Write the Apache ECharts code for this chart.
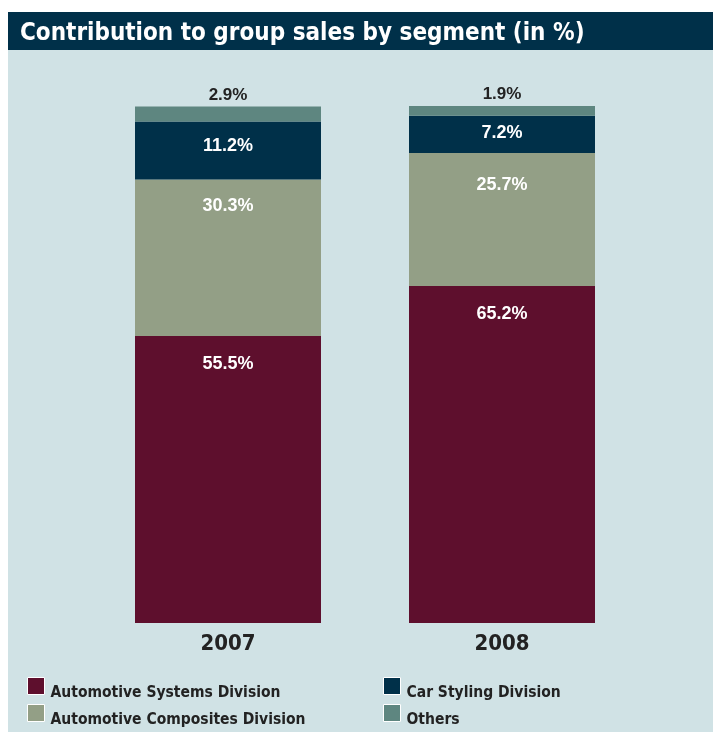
<!DOCTYPE html>
<html><head><meta charset="utf-8">
<script src="https://cdn.jsdelivr.net/npm/echarts@6/dist/echarts.min.js"></script>
<style>html,body{margin:0;padding:0;background:#fff}#c{width:713px;height:732px}</style>
</head><body><div id="c"></div>
<script>
const categories = ['2007', '2008'];
const systems = [55.5, 65.2];
const composites = [30.3, 25.7];
const styling = [11.2, 7.2];
const others = [2.9, 1.9];
const seriesNames = ['Automotive Systems Division', 'Automotive Composites Division', 'Car Styling Division', 'Others'];

const chart = echarts.init(document.getElementById('c'));
const fmt = p => p.value.toFixed(1) + '%';
const inLabel = (pos, dist, off) => ({
  show: true, position: pos, distance: dist, offset: off || [0, 0],
  color: '#ffffff', fontSize: 18, fontWeight: 'bold', fontFamily: 'Liberation Sans, Arial, sans-serif', formatter: fmt
});
const compDist = [18, 23];
const stylOff = [[0, -4], [0, -1]];
const condensed = 'DejaVu Sans Condensed, Liberation Sans, sans-serif';
const legendText = {
  color: '#222', fontSize: 15.5, fontWeight: 'bold', fontFamily: condensed,
  rich: { t: { color: '#222', fontSize: 15.5, fontWeight: 'bold', fontFamily: condensed, padding: [14, 0, 0, 1] } }
};
const legendPos = [[27, 677], [27, 704], [383, 677], [383, 704]];
chart.setOption({
  backgroundColor: '#ffffff',
  animation: false,
  graphic: [
    { type: 'rect', shape: { x: 8, y: 50, width: 705, height: 682 }, style: { fill: '#d0e2e5' }, silent: true, z: -10 },
    { type: 'rect', shape: { x: 8, y: 12, width: 705, height: 38 }, style: { fill: '#003049' }, silent: true, z: -10 }
  ],
  title: {
    text: 'Contribution to group sales by segment (in %)',
    left: 15, top: 17,
    textStyle: { color: '#ffffff', fontSize: 24, fontWeight: 'bold', fontFamily: condensed }
  },
  legend: [0, 1, 2, 3].map((si, k) => ({
    left: legendPos[k][0], top: legendPos[k][1], padding: 0, itemWidth: 17, itemHeight: 17, icon: 'rect',
    data: [seriesNames[si]], textStyle: legendText, formatter: '{t|{name}}',
    itemStyle: { borderColor: '#ffffff', borderWidth: 1 }
  })),
  grid: { left: 91, width: 548, top: 106, bottom: 109 },
  xAxis: {
    type: 'category', data: categories,
    axisLine: { show: false }, axisTick: { show: false },
    axisLabel: { margin: 10, color: '#222', fontSize: 22, fontWeight: 900, fontFamily: condensed }
  },
  yAxis: { type: 'value', min: 0, max: 100, show: false, splitLine: { show: false } },
  series: [
    { name: seriesNames[0], type: 'bar', stack: 's', barWidth: 186, data: systems,
      itemStyle: { color: '#5e0f2d' }, label: inLabel('insideTop', 19) },
    { name: seriesNames[1], type: 'bar', stack: 's', barWidth: 186,
      data: composites.map((v, i) => ({ value: v, label: { distance: compDist[i] } })),
      itemStyle: { color: '#939f86' }, label: inLabel('insideTop', 18) },
    { name: seriesNames[2], type: 'bar', stack: 's', barWidth: 186,
      data: styling.map((v, i) => ({ value: v, label: { offset: stylOff[i] } })),
      itemStyle: { color: '#003049' }, label: inLabel('inside', 0, [0, -4]) },
    { name: seriesNames[3], type: 'bar', stack: 's', barWidth: 186, data: others,
      itemStyle: { color: '#5e8680' },
      label: { show: true, position: 'top', distance: 3, color: '#222', fontSize: 17, fontWeight: 'bold', fontFamily: 'Liberation Sans, Arial, sans-serif', formatter: fmt } }
  ]
});
</script></body></html>
